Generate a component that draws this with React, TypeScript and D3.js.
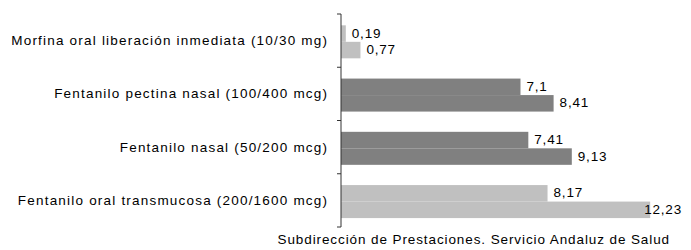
import React from "react";
import * as d3 from "d3";

const categories = [
  "Morfina oral liberación inmediata (10/30 mg)",
  "Fentanilo pectina nasal (100/400 mcg)",
  "Fentanilo nasal (50/200 mcg)",
  "Fentanilo oral transmucosa (200/1600 mcg)",
];
const seriesA = [0.19, 7.1, 7.41, 8.17];
const seriesB = [0.77, 8.41, 9.13, 12.23];
const categoryColors = ["#c0c0c0", "#808080", "#808080", "#c0c0c0"];
const source = "Subdirección de Prestaciones. Servicio Andaluz de Salud";

const W = 691;
const H = 250;
const axisX = 341;
const font = "'Liberation Sans', Arial, sans-serif";

function fmt(v: number) {
  return String(v).replace(".", ",");
}

function measure(text: string, size: number) {
  const c = document.createElement("canvas").getContext("2d")!;
  c.font = `${size}px 'Liberation Sans'`;
  return c.measureText(text).width;
}

export default function App() {
  const x = d3.scaleLinear().domain([0, 14]).range([axisX, axisX + 14 * 25.28]);
  const y = d3.scaleBand<string>().domain(categories).range([14, 227]).padding(0);
  const bw = y.bandwidth();
  const groupH = bw * 0.62;
  const barH = groupH / 2;
  const boundaries = d3.range(categories.length + 1).map((i) => 14 + i * bw);
  const rightLimit = 681;

  const bars: { cat: string; v: number; i: number; k: number }[] = [];
  categories.forEach((c, i) => {
    bars.push({ cat: c, v: seriesA[i], i, k: 0 });
    bars.push({ cat: c, v: seriesB[i], i, k: 1 });
  });

  return (
    <svg width={W} height={H} style={{ position: "absolute", left: 0, top: 0, background: "#fff" }} fontFamily={font}>
      {bars.map((b) => {
        const top = (y(b.cat) as number) + (bw - groupH) / 2 + 1.2 + b.k * barH;
        return (
          <rect key={`r${b.i}-${b.k}`} x={x(0)} y={top} width={x(b.v) - x(0)} height={barH} fill={categoryColors[b.i]} />
        );
      })}
      {bars.map((b) => {
        const top = (y(b.cat) as number) + (bw - groupH) / 2 + 1.2 + b.k * barH;
        const label = fmt(b.v);
        const w = measure(label, 13.5) + 3;
        let lx = x(b.v) + 6;
        if (lx + w > rightLimit) lx = rightLimit - w;
        return (
          <text key={`t${b.i}-${b.k}`} x={lx} y={top + barH / 2 + 4} fontSize={13.5} letterSpacing={0.8} fill="#000">
            {label}
          </text>
        );
      })}
      <line x1={axisX} x2={axisX} y1={14} y2={227} stroke="#333" strokeWidth={1} />
      {boundaries.map((b, i) => (
        <line key={`k${i}`} x1={axisX - 4} x2={axisX} y1={b} y2={b} stroke="#333" strokeWidth={1} />
      ))}
      {categories.map((c) => (
        <text key={c} x={328.2} y={(y(c) as number) + bw / 2 + 4.5} fontSize={13.5} letterSpacing={1.2} textAnchor="end" fill="#000">
          {c}
        </text>
      ))}
      <text x={670} y={244} fontSize={13.5} letterSpacing={0.9} textAnchor="end" fill="#000">
        {source}
      </text>
    </svg>
  );
}
